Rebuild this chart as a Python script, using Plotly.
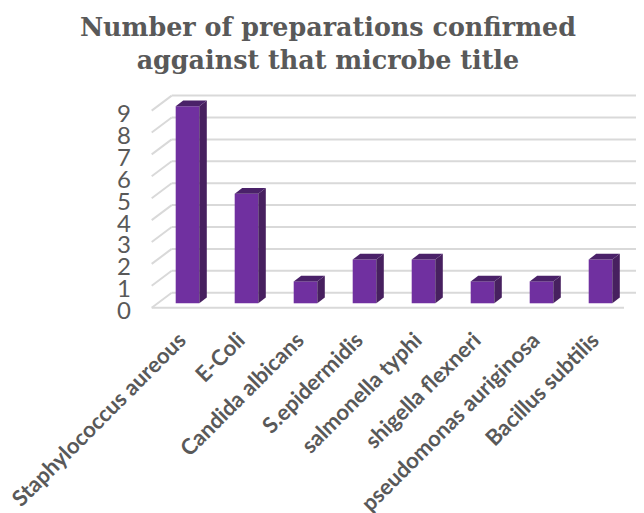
import plotly.graph_objects as go

categories = ["Staphylococcus aureous", "E-Coli", "Candida albicans", "S.epidermidis",
              "salmonella typhi", "shigella flexneri", "pseudomonas auriginosa", "Bacillus subtilis"]
values = [9, 5, 1, 2, 2, 1, 1, 2]
y_ticks = list(range(10))
title = "Number of preparations confirmed<br>aggainst that microbe title"

# the page keeps an 8 px margin around the figure
PAGE = 8
W, H = 644, 513
L, R, T, B = 150, 644, 90, 310
PX_X = 59.0
PX_Y = 21.9
X0_PX = 187.5   # pixel of first category
Y0_PX = 307.7   # pixel of value 0 on front edge
xr = [(L - X0_PX) / PX_X, (R - X0_PX) / PX_X]
yr = [(Y0_PX - B) / PX_Y, (Y0_PX - T) / PX_Y]

# depth of the wall and the bars
WALL_DX, WALL_DY = 20 / PX_X, 15 / PX_Y
BAR_W = 23.6 / PX_X
BAR_DX, BAR_DY = 7.5 / PX_X, 5.7 / PX_Y
BAR_LIFT = 4.4 / PX_Y
FLOOR_X0 = (151.7 - X0_PX) / PX_X
FLOOR_X1 = (624 - X0_PX) / PX_X

FRONT, SIDE, TOP = "#7030a0", "#47205f", "#4a2169"
GRID = "#d9d9d9"
TEXT = "#595959"

xs = list(range(len(categories)))
fig = go.Figure()
fig.add_trace(go.Bar(x=xs, y=values, base=BAR_LIFT, width=BAR_W, marker=dict(color=FRONT, line=dict(width=0)),
                     hovertemplate="%{text}: %{y}<extra></extra>", text=categories, textposition="none"))
for i, v in zip(xs, values):
    r = i + BAR_W / 2
    l = i - BAR_W / 2
    top = v + BAR_LIFT
    fig.add_trace(go.Scatter(x=[r, r + BAR_DX, r + BAR_DX, r, r],
                             y=[BAR_LIFT, BAR_LIFT + BAR_DY, top + BAR_DY, top, BAR_LIFT],
                             mode="lines", fill="toself", fillcolor=SIDE, line=dict(width=0), hoverinfo="skip"))
    fig.add_trace(go.Scatter(x=[l, l + BAR_DX, r + BAR_DX, r, l],
                             y=[top, top + BAR_DY, top + BAR_DY, top, top],
                             mode="lines", fill="toself", fillcolor=TOP, line=dict(width=0), hoverinfo="skip"))

shapes = []
line = dict(color=GRID, width=2)
for v in y_ticks:
    shapes.append(dict(type="line", layer="below", xref="x", yref="y", x0=FLOOR_X0, y0=v,
                       x1=FLOOR_X0 + WALL_DX, y1=v + WALL_DY, line=line))
    shapes.append(dict(type="line", layer="below", xref="x", yref="y", x0=FLOOR_X0 + WALL_DX, y0=v + WALL_DY,
                       x1=xr[1], y1=v + WALL_DY, line=line))
shapes.append(dict(type="line", layer="below", xref="x", yref="y", x0=FLOOR_X0, y0=0, x1=FLOOR_X1, y1=0, line=line))

fig.update_layout(
    width=W - PAGE, height=H - PAGE, showlegend=False,
    paper_bgcolor="white", plot_bgcolor="white",
    margin=dict(l=L - PAGE, r=W - R, t=T - PAGE, b=H - B, pad=0, autoexpand=False),
    shapes=shapes,
    title=dict(text=title, x=0.503, xanchor="center", y=0.945, yanchor="top",
               font=dict(family="DejaVu Serif", size=25.4, color=TEXT, weight="bold")),
    xaxis=dict(range=xr, tickmode="array", tickvals=xs, ticktext=categories, tickangle=-45, automargin=False,
               showgrid=False, zeroline=False, showline=False, ticks="", ticklabelstandoff=12, ticklabelshift=-8,
               ticklabeloverflow="allow",
               tickfont=dict(family="Lato", size=22, color=TEXT, weight="bold")),
    yaxis=dict(range=yr, tickmode="array", tickvals=y_ticks, automargin=False, showgrid=False, zeroline=False,
               showline=False, ticks="", ticklabelstandoff=18, ticklabelshift=3,
               tickfont=dict(family="Lato", size=24, color=TEXT)),
)
fig.write_html("out.html")
